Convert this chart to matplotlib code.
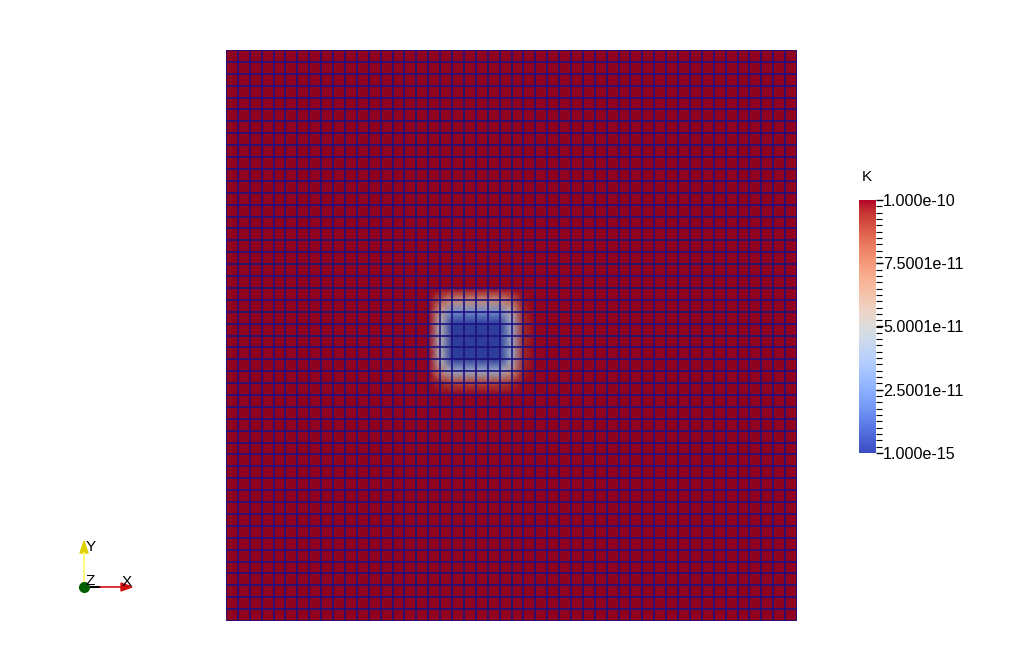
import numpy as np
import matplotlib
matplotlib.use("Agg")
import matplotlib.pyplot as plt
from matplotlib import colors
from matplotlib.colorbar import ColorbarBase
from matplotlib.ticker import FixedLocator, MultipleLocator

# mesh: 48 x 48 quads -> 49 x 49 nodes
N_CELLS = 48
K_HIGH = 1.0e-10
K_LOW = 1.0e-15

# fraction of "low K" at nodes around the inclusion
X_NODES = [18, 19, 20, 21, 22, 23, 24, 25]
X_WEIGHT = [0.5, 1.0, 1.0, 1.0, 1.0, 1.0, 0.6, 0.05]
Y_NODES = [21, 22, 23, 24, 25, 26, 27, 28]      # counted from the top
Y_WEIGHT = [0.3, 0.75, 1.0, 1.0, 1.0, 1.0, 0.6, 0.1]

CBAR_TICKS = [1.0e-15, 2.5001e-11, 5.0001e-11, 7.5001e-11, 1.0e-10]
CBAR_LABELS = ["1.000e-15", "2.5001e-11", "5.0001e-11", "7.5001e-11", "1.000e-10"]

FONT = ["Liberation Sans", "DejaVu Sans"]
EDGE = "#1c1280"


def nodal_field():
    wx = np.zeros(N_CELLS + 1)
    wy = np.zeros(N_CELLS + 1)
    wx[X_NODES] = X_WEIGHT
    wy[Y_NODES] = Y_WEIGHT
    return K_HIGH - (K_HIGH - K_LOW) * np.outer(wy, wx)


# surface colours are a bit darker than the lookup table (lighting)
base = plt.get_cmap("coolwarm")
lut = base(np.linspace(0, 1, 256))
lut[:, :3] *= 0.8
surf_cmap = colors.ListedColormap(lut)
norm = colors.Normalize(vmin=K_LOW, vmax=K_HIGH)

fig = plt.figure(figsize=(10.24, 6.72), dpi=100)
fig.patch.set_facecolor("white")

ax = fig.add_axes([226 / 1024, (672 - 621) / 672, 571 / 1024, 571 / 672])
nodes = np.arange(N_CELLS + 1)
X, Y = np.meshgrid(nodes, nodes)
ax.pcolormesh(X, Y, nodal_field(), cmap=surf_cmap, norm=norm, shading="gouraud")
for n in nodes:
    ax.plot([n, n], [0, N_CELLS], color=EDGE, lw=1.2, solid_capstyle="butt")
    ax.plot([0, N_CELLS], [n, n], color=EDGE, lw=1.2, solid_capstyle="butt")
ax.set_xlim(0, N_CELLS)
ax.set_ylim(N_CELLS, 0)
ax.axis("off")

# colour legend
cax = fig.add_axes([859 / 1024, (672 - 453) / 672, 17 / 1024, 253 / 672])
cb = ColorbarBase(cax, cmap=base, norm=norm, orientation="vertical")
cb.outline.set_visible(False)
cax.yaxis.set_major_locator(FixedLocator(CBAR_TICKS))
cax.yaxis.set_minor_locator(MultipleLocator(2.5e-12))
cax.set_yticklabels(CBAR_LABELS, family=FONT, fontsize=11.6)
cax.tick_params(which="major", length=5, width=1, pad=0, color="black")
cax.tick_params(which="minor", length=4.5, width=0.8, color="black")
cax.yaxis.get_offset_text().set_visible(False)
fig.text(862 / 1024, 1 - 177 / 672, "K", family=FONT, fontsize=11, va="center")

# orientation triad
tri = fig.add_axes([0, 0, 1, 1])
tri.set_xlim(0, 1024)
tri.set_ylim(672, 0)
tri.axis("off")
ox, oy = 84, 587
tri.plot([ox, ox], [oy, 553], color="#ffff60", lw=1.2)
tri.fill([ox - 4, ox + 4, ox], [553, 553, 541], color="#e0d000")
tri.plot([ox, 100], [oy, oy], color="black", lw=1.5)
tri.plot([100, 121], [oy, oy], color="#d01010", lw=1.2)
tri.fill([121, 121, 132], [oy - 4, oy + 4, oy], color="#d01010")
tri.plot(ox, oy, "o", color="#006000", ms=7)
tri.text(86, 547, "Y", family=FONT, fontsize=11, va="center")
tri.text(122, 582, "X", family=FONT, fontsize=11, va="center")
tri.text(86, 581, "Z", family=FONT, fontsize=11, va="center")

fig.savefig("out.png", dpi=100)
